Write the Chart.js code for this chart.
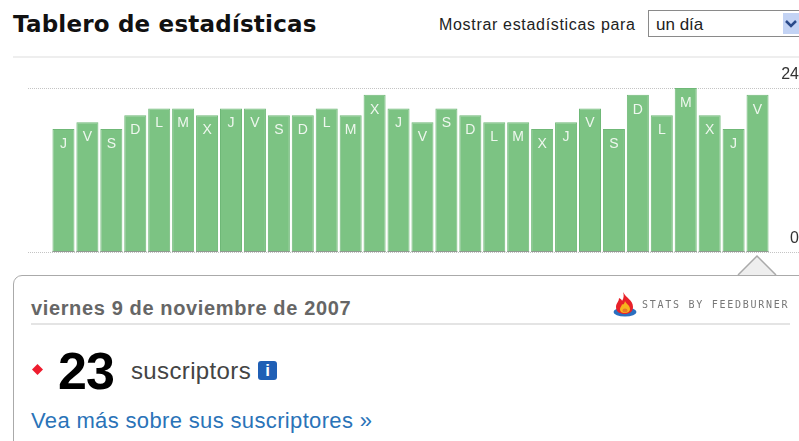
<!DOCTYPE html>
<html>
<head>
<meta charset="utf-8">
<title>Tablero de estadísticas</title>
<script src="https://cdn.jsdelivr.net/npm/chart.js@4"></script>
<style>
html, body { margin: 0; padding: 0; background: #fff; overflow: hidden; }
#page { position: relative; width: 799px; height: 441px; overflow: hidden; font-family: "Liberation Sans", Arial, sans-serif; }
#page > * { position: absolute; white-space: nowrap; }
#chart { left: 0; top: 0; width: 799px; height: 270px; }
#title { left: 13px; top: 11px; font: bold 23px "DejaVu Sans", sans-serif; letter-spacing: 0.2px; color: #111; }
#rule { left: 13px; top: 56px; width: 786px; height: 2px; background: #eee; }
#show { left: 439px; top: 16px; font-size: 16px; letter-spacing: 0.68px; color: #222; }
#select { left: 648px; top: 10px; width: 160px; height: 25px; border: 1px solid #8a8a8a; border-right: 0; font-size: 17px; line-height: 27px; color: #222; text-indent: 7px; }
#arrow { left: 783px; top: 13px; width: 16px; height: 21px; background: #c3d3f4; }
#card { left: 13px; top: 275px; width: 820px; height: 200px; border: 1.5px solid #aaa; border-radius: 9px; box-sizing: border-box; background: #fff; }
#notch { left: 735px; top: 254px; }
#date { left: 31px; top: 297px; font-size: 20px; font-weight: bold; color: #666; letter-spacing: 0.63px; }
#rule2 { left: 31px; top: 323px; width: 759px; height: 2px; background: #e4e4e4; }
#stats { left: 642px; top: 299px; font: 10px "DejaVu Sans Mono", monospace; letter-spacing: 1.73px; color: #777; }
#logo { left: 612px; top: 291px; }
#diamond { left: 32px; top: 364px; }
#num { left: 58px; top: 341px; font-size: 52px; font-weight: bold; color: #000; letter-spacing: -1px; }
#subs { left: 131px; top: 357px; font-size: 24px; letter-spacing: 0.36px; color: #444; }
#info { left: 258px; top: 361px; width: 19px; height: 19px; border-radius: 3px; background: #1f5fb5; color: #fff; font: bold 17px/19px "Liberation Sans", sans-serif; text-align: center; }
#link { left: 31px; top: 408px; font-size: 22px; letter-spacing: 0.35px; color: #2a73b8; }
</style>
</head>
<body>
<div id="page">
  <div id="title">Tablero de estadísticas</div>
  <div id="show">Mostrar estadísticas para</div>
  <div id="select">un día</div>
  <div id="arrow"><svg width="16" height="21"><path d="M3 8 L8 13 L13 8" fill="none" stroke="#2a4a8a" stroke-width="2.5"/></svg></div>
  <div id="rule"></div>
  <canvas id="chart" width="799" height="270"></canvas>
  <div id="card"></div>
  <svg id="notch" width="44" height="23"><path d="M3 21 L22 2 L41 21" fill="#eee" stroke="#aaa" stroke-width="1.5"/></svg>
  <div id="date">viernes 9 de noviembre de 2007</div>
  <svg id="logo" width="26" height="28"><ellipse cx="13" cy="21" rx="11.5" ry="4.5" fill="#2a6fc0"/><path d="M11 1 C14 7 21 9 21 16 C21 21 17 23 13 23 C8 23 4 21 4 16 C4 12 7 11 7 7 C9 8 10 9 10 10 C12 7 12 4 11 1 Z" fill="#e8222a"/><path d="M13 10 C14 13 18 14 18 18 C18 21 15 22 13 22 C10 22 8 21 8 18 C8 16 10 15 10 13 C11 14 12 14 13 10 Z" fill="#f6b51e"/><ellipse cx="13" cy="19.5" rx="2.5" ry="2" fill="#e8762a"/></svg>
  <div id="stats">STATS BY FEEDBURNER</div>
  <div id="rule2"></div>
  <svg id="diamond" width="11" height="11"><path d="M5.5 0 L11 5.5 L5.5 11 L0 5.5 Z" fill="#ee1c2e"/></svg>
  <div id="num">23</div>
  <div id="subs">suscriptors</div>
  <div id="info">i</div>
  <div id="link">Vea más sobre sus suscriptores »</div>
</div>
<script>
const days = ['J','V','S','D','L','M','X','J','V','S','D','L','M','X','J','V','S','D','L','M','X','J','V','S','D','L','M','X','J','V'];
const subscribers = [18,19,18,20,21,21,20,21,21,20,20,21,20,23,21,19,21,20,19,19,18,19,21,18,23,20,24,20,18,23];
const yTicks = [0, 24];

// dotted lines run past the plot on both sides, so gridlines are not enough
const dottedLines = {
  id: 'dottedLines',
  beforeDatasetsDraw(chart) {
    const ctx = chart.ctx, y = chart.scales.y;
    ctx.save();
    ctx.strokeStyle = '#c4c4c4';
    ctx.lineWidth = 1;
    ctx.setLineDash([1, 1]);
    yTicks.forEach(t => {
      const py = Math.round(y.getPixelForValue(t)) + 0.5;
      ctx.beginPath();
      ctx.moveTo(28, py);
      ctx.lineTo(799, py);
      ctx.stroke();
    });
    ctx.restore();
  }
};

const dayLetters = {
  id: 'dayLetters',
  afterDatasetsDraw(chart) {
    const ctx = chart.ctx;
    ctx.save();
    ctx.font = '14px "Liberation Sans", Arial, sans-serif';
    ctx.fillStyle = '#eef7ee';
    ctx.textAlign = 'center';
    ctx.textBaseline = 'middle';
    chart.getDatasetMeta(0).data.forEach((bar, i) => {
      ctx.fillText(days[i], bar.x, bar.y + 15);
    });
    // dark foot of each bar
    ctx.fillStyle = '#8f9a90';
    chart.getDatasetMeta(0).data.forEach(bar => {
      ctx.fillRect(bar.x - bar.width / 2, bar.base - 1, bar.width, 1);
    });
    ctx.restore();
  }
};

new Chart(document.getElementById('chart'), {
  type: 'bar',
  data: {
    labels: days,
    datasets: [{
      data: subscribers,
      backgroundColor: '#7cc383',
      borderColor: '#6fb877',
      borderWidth: 1,
      categoryPercentage: 1,
      barPercentage: 0.92
    }]
  },
  options: {
    responsive: false,
    animation: false,
    layout: { padding: { left: 51.5, top: 88, bottom: 18, right: 0 } },
    plugins: { legend: { display: false }, tooltip: { enabled: false } },
    scales: {
      x: { display: false },
      y: {
        position: 'right',
        min: 0,
        max: 24,
        afterBuildTicks(axis) { axis.ticks = yTicks.map(v => ({ value: v })); },
        afterFit(axis) { axis.width = 29.5; },
        grid: { display: false },
        border: { display: false },
        ticks: {
          autoSkip: false,
          labelOffset: -13,
          padding: 0,
          crossAlign: 'far',
          color: '#333',
          font: { family: '"Liberation Sans", Arial, sans-serif', size: 16 }
        }
      }
    }
  },
  plugins: [dottedLines, dayLetters]
});
</script>
</body>
</html>
